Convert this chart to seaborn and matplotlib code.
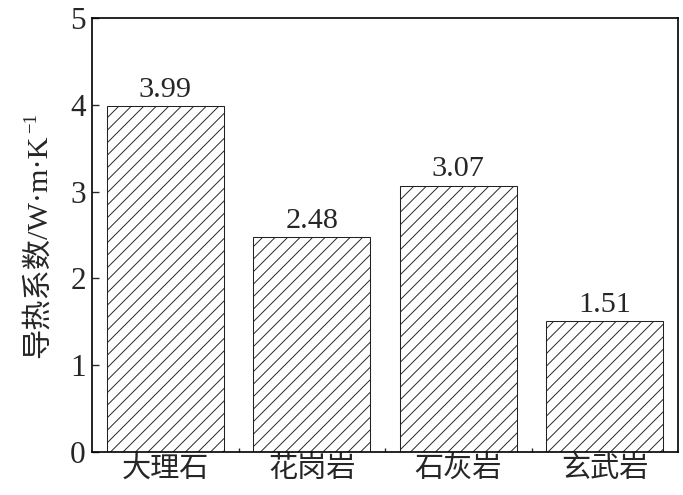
import numpy as np
import seaborn as sns
import matplotlib.pyplot as plt
import pandas as pd
from matplotlib.ticker import FixedLocator

rocks = ['大理石', '花岗岩', '石灰岩', '玄武岩']
conductivity = [3.99, 2.48, 3.07, 1.51]

df = pd.DataFrame({'rock': rocks, 'k': conductivity})

sns.set_style('ticks')
plt.rcParams['font.family'] = ['Liberation Serif', 'Noto Sans CJK SC', 'DejaVu Serif']
plt.rcParams['hatch.linewidth'] = 0.9
plt.rcParams['hatch.color'] = '#222222'

fig = plt.figure(figsize=(683 / 75, 495 / 75), dpi=75)
ax = fig.add_axes([92 / 683, 43 / 495, 586 / 683, 434 / 495])

sns.barplot(data=df, x='rock', y='k', color='white', edgecolor='#222222',
            linewidth=1.0, hatch='//', width=0.8, saturation=1, ax=ax)

ax.bar_label(ax.containers[0], fmt='%.2f', padding=3, fontsize=29)

ax.set_xlim(-0.5, 3.5)
ax.set_ylim(0, 5)
ax.set_yticks([0, 1, 2, 3, 4, 5])
ax.xaxis.set_minor_locator(FixedLocator([0.5, 1.5, 2.5]))
ax.set_xlabel('')
ax.set_ylabel('导热系数/W·m·K', fontsize=29)
ax.yaxis.set_label_coords(-0.068, 0.475)

ax.tick_params(axis='both', which='major', direction='in', length=7, width=1.3,
               labelsize=30, pad=6)
ax.tick_params(axis='x', which='minor', direction='in', length=4, width=1.3)
ax.tick_params(axis='x', which='major', labelsize=28, pad=4)

for s in ax.spines.values():
    s.set_visible(True)
    s.set_linewidth(1.6)
    s.set_color('black')

# small superscript after the y label
fig.canvas.draw()
bb = ax.yaxis.label.get_window_extent()
fig.text((bb.x0 - 1) / fig.bbox.width, (bb.y1 + 1) / fig.bbox.height, '−1',
         rotation=90, fontsize=18, ha='left', va='bottom')

fig.savefig('out.png', dpi=75)
